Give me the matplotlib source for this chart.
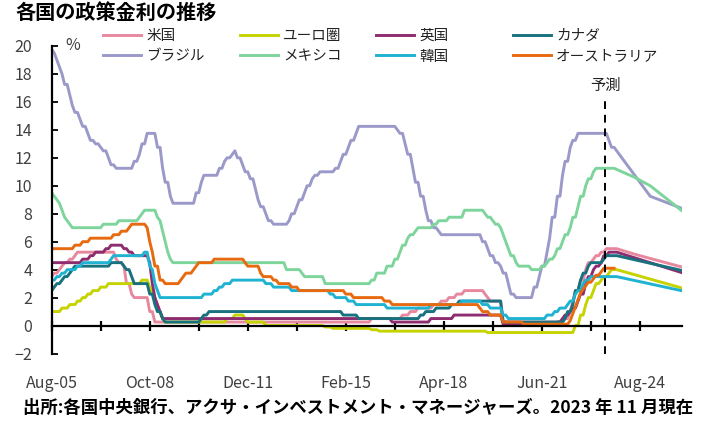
import matplotlib
matplotlib.use("Agg")
import matplotlib.pyplot as plt

plt.rcParams['font.family'] = ['Noto Sans CJK JP', 'DejaVu Sans']

# --- data: policy rate change points (month, rate %) and forecast paths ---
us_dates = ['2005-08', '2005-09', '2005-11', '2005-12', '2006-01', '2006-03', '2006-05', '2006-06',
            '2007-09', '2007-10', '2007-12', '2008-01', '2008-03', '2008-04', '2008-10', '2008-12',
            '2015-12', '2016-12', '2017-03', '2017-06', '2017-12', '2018-03', '2018-06', '2018-09',
            '2018-12', '2019-08', '2019-09', '2019-10', '2020-03', '2022-03', '2022-05', '2022-06',
            '2022-07', '2022-09', '2022-11', '2022-12', '2023-02', '2023-03', '2023-05', '2023-07',
            '2023-11']
us_rates = [3.5, 3.75, 4.0, 4.25, 4.5, 4.75, 5.0, 5.25,
            4.75, 4.5, 4.25, 3.0, 2.25, 2.0, 1.0, 0.25,
            0.5, 0.75, 1.0, 1.25, 1.5, 1.75, 2.0, 2.25,
            2.5, 2.25, 2.0, 1.75, 0.25, 0.5, 1.0, 1.75,
            2.5, 3.25, 4.0, 4.5, 4.75, 5.0, 5.25, 5.5,
            5.5]
us_fc_dates = ['2023-11', '2024-06', '2025-12']
us_fc_rates = [5.5, 5.1, 4.2]

eu_dates = ['2005-08', '2005-12', '2006-03', '2006-06', '2006-08', '2006-10', '2006-12', '2007-03',
            '2007-06', '2008-07', '2008-10', '2008-11', '2008-12', '2009-01', '2009-03', '2009-04',
            '2011-04', '2011-07', '2011-11', '2011-12', '2012-07', '2014-06', '2014-09', '2015-12',
            '2016-03', '2019-09', '2022-07', '2022-09', '2022-11', '2022-12', '2023-02', '2023-03',
            '2023-05', '2023-06', '2023-08', '2023-09', '2023-11']
eu_rates = [1.0, 1.25, 1.5, 1.75, 2.0, 2.25, 2.5, 2.75,
            3.0, 3.25, 2.75, 2.25, 2.0, 1.0, 0.5, 0.25,
            0.5, 0.75, 0.5, 0.25, 0.0, -0.1, -0.2, -0.3,
            -0.4, -0.5, 0.0, 0.75, 1.5, 2.0, 2.5, 3.0,
            3.25, 3.5, 3.75, 4.0, 4.0]
eu_fc_dates = ['2023-11', '2025-12']
eu_fc_rates = [4.0, 2.7]

uk_dates = ['2005-08', '2006-08', '2006-11', '2007-01', '2007-05', '2007-07', '2007-12', '2008-02',
            '2008-04', '2008-10', '2008-11', '2008-12', '2009-01', '2009-02', '2009-03', '2016-08',
            '2017-11', '2018-08', '2020-03', '2021-12', '2022-02', '2022-03', '2022-05', '2022-06',
            '2022-08', '2022-09', '2022-11', '2022-12', '2023-02', '2023-03', '2023-05', '2023-06',
            '2023-08', '2023-11']
uk_rates = [4.5, 4.75, 5.0, 5.25, 5.5, 5.75, 5.5, 5.25,
            5.0, 4.5, 3.0, 2.0, 1.5, 1.0, 0.5, 0.25,
            0.5, 0.75, 0.1, 0.25, 0.5, 0.75, 1.0, 1.25,
            1.75, 2.25, 3.0, 3.5, 4.0, 4.25, 4.5, 5.0,
            5.25, 5.25]
uk_fc_dates = ['2023-11', '2025-12']
uk_fc_rates = [5.25, 3.8]

ca_dates = ['2005-08', '2005-09', '2005-10', '2005-12', '2006-01', '2006-03', '2006-04', '2006-05',
            '2007-07', '2007-12', '2008-01', '2008-03', '2008-04', '2008-10', '2008-12', '2009-01',
            '2009-03', '2009-04', '2010-06', '2010-07', '2010-09', '2015-01', '2015-07', '2017-07',
            '2017-09', '2018-01', '2018-07', '2018-10', '2020-03', '2022-03', '2022-04', '2022-06',
            '2022-07', '2022-09', '2022-10', '2022-12', '2023-01', '2023-06', '2023-07', '2023-11']
ca_rates = [2.5, 2.75, 3.0, 3.25, 3.5, 3.75, 4.0, 4.25,
            4.5, 4.25, 4.0, 3.5, 3.0, 2.25, 1.5, 1.0,
            0.5, 0.25, 0.5, 0.75, 1.0, 0.75, 0.5, 0.75,
            1.0, 1.25, 1.5, 1.75, 0.25, 0.5, 1.0, 1.5,
            2.5, 3.25, 3.75, 4.25, 4.5, 4.75, 5.0, 5.0]
ca_fc_dates = ['2023-11', '2025-12']
ca_fc_rates = [5.0, 3.95]

br_dates = ['2005-08', '2005-09', '2005-10', '2005-11', '2005-12', '2006-01', '2006-03', '2006-04',
            '2006-05', '2006-07', '2006-08', '2006-10', '2006-11', '2007-01', '2007-03', '2007-04',
            '2007-06', '2007-07', '2007-09', '2008-04', '2008-06', '2008-07', '2008-09', '2009-01',
            '2009-03', '2009-04', '2009-06', '2009-07', '2010-04', '2010-06', '2010-07', '2011-01',
            '2011-03', '2011-04', '2011-06', '2011-07', '2011-08', '2011-10', '2011-11', '2012-01',
            '2012-03', '2012-04', '2012-05', '2012-07', '2012-08', '2012-10', '2013-04', '2013-05',
            '2013-07', '2013-08', '2013-10', '2013-11', '2014-01', '2014-02', '2014-04', '2014-10',
            '2014-12', '2015-01', '2015-03', '2015-04', '2015-06', '2015-07', '2016-10', '2016-11',
            '2017-01', '2017-02', '2017-04', '2017-05', '2017-07', '2017-09', '2017-10', '2017-12',
            '2018-02', '2018-03', '2019-07', '2019-09', '2019-10', '2019-12', '2020-02', '2020-03',
            '2020-05', '2020-06', '2020-08', '2021-03', '2021-05', '2021-06', '2021-08', '2021-09',
            '2021-10', '2021-12', '2022-02', '2022-03', '2022-05', '2022-06', '2022-08', '2023-08',
            '2023-09', '2023-10']
br_rates = [19.75, 19.5, 19.0, 18.5, 18.0, 17.25, 16.5, 15.75,
            15.25, 14.75, 14.25, 13.75, 13.25, 13.0, 12.75, 12.5,
            12.0, 11.5, 11.25, 11.75, 12.25, 13.0, 13.75, 12.75,
            11.25, 10.25, 9.25, 8.75, 9.5, 10.25, 10.75, 11.25,
            11.75, 12.0, 12.25, 12.5, 12.0, 11.5, 11.0, 10.5,
            9.75, 9.0, 8.5, 8.0, 7.5, 7.25, 7.5, 8.0,
            8.5, 9.0, 9.5, 10.0, 10.5, 10.75, 11.0, 11.25,
            11.75, 12.25, 12.75, 13.25, 13.75, 14.25, 14.0, 13.75,
            13.0, 12.25, 11.25, 10.25, 9.25, 8.25, 7.5, 7.0,
            6.75, 6.5, 6.0, 5.5, 5.0, 4.5, 4.25, 3.75,
            3.0, 2.25, 2.0, 2.75, 3.5, 4.25, 5.25, 6.25,
            7.75, 9.25, 10.75, 11.75, 12.75, 13.25, 13.75, 13.25,
            12.75, 12.75]
br_fc_dates = ['2023-10', '2024-12', '2025-12']
br_fc_rates = [12.75, 9.25, 8.4]

mx_dates = ['2005-08', '2005-09', '2005-10', '2005-11', '2005-12', '2006-01', '2006-02', '2006-03',
            '2006-04', '2007-04', '2007-10', '2008-06', '2008-07', '2008-08', '2009-01', '2009-02',
            '2009-03', '2009-04', '2009-05', '2009-06', '2009-07', '2013-03', '2013-09', '2013-10',
            '2014-06', '2015-12', '2016-02', '2016-06', '2016-09', '2016-11', '2016-12', '2017-02',
            '2017-03', '2017-05', '2017-06', '2017-12', '2018-02', '2018-06', '2018-12', '2019-08',
            '2019-09', '2019-11', '2019-12', '2020-02', '2020-03', '2020-04', '2020-05', '2020-06',
            '2020-08', '2020-09', '2021-02', '2021-06', '2021-08', '2021-09', '2021-11', '2021-12',
            '2022-02', '2022-03', '2022-05', '2022-06', '2022-08', '2022-09', '2022-11', '2022-12',
            '2023-02', '2023-03', '2023-10']
mx_rates = [9.5, 9.25, 9.0, 8.75, 8.25, 7.75, 7.5, 7.25,
            7.0, 7.25, 7.5, 7.75, 8.0, 8.25, 7.75, 7.5,
            6.75, 6.0, 5.25, 4.75, 4.5, 4.0, 3.75, 3.5,
            3.0, 3.25, 3.75, 4.25, 4.75, 5.25, 5.75, 6.25,
            6.5, 6.75, 7.0, 7.25, 7.5, 7.75, 8.25, 8.0,
            7.75, 7.5, 7.25, 7.0, 6.5, 6.0, 5.5, 5.0,
            4.5, 4.25, 4.0, 4.25, 4.5, 4.75, 5.0, 5.5,
            6.0, 6.5, 7.0, 7.75, 8.5, 9.25, 10.0, 10.5,
            11.0, 11.25, 11.25]
mx_fc_dates = ['2023-10', '2024-06', '2024-12', '2025-12']
mx_fc_rates = [11.25, 10.6, 10.0, 8.25]

kr_dates = ['2005-08', '2005-10', '2005-12', '2006-02', '2006-06', '2006-08', '2007-07', '2007-08',
            '2008-08', '2008-10', '2008-11', '2008-12', '2009-01', '2009-02', '2010-07', '2010-11',
            '2011-01', '2011-03', '2011-06', '2012-07', '2012-10', '2013-05', '2014-08', '2014-10',
            '2015-03', '2015-06', '2016-06', '2017-11', '2018-11', '2019-07', '2019-10', '2020-03',
            '2020-05', '2021-08', '2021-11', '2022-01', '2022-04', '2022-05', '2022-07', '2022-08',
            '2022-10', '2022-11', '2023-01', '2023-11']
kr_rates = [3.25, 3.5, 3.75, 4.0, 4.25, 4.5, 4.75, 5.0,
            5.25, 4.25, 4.0, 3.0, 2.5, 2.0, 2.25, 2.5,
            2.75, 3.0, 3.25, 3.0, 2.75, 2.5, 2.25, 2.0,
            1.75, 1.5, 1.25, 1.5, 1.75, 1.5, 1.25, 0.75,
            0.5, 0.75, 1.0, 1.25, 1.5, 1.75, 2.25, 2.5,
            3.0, 3.25, 3.5, 3.5]
kr_fc_dates = ['2023-11', '2025-12']
kr_fc_rates = [3.5, 2.5]

au_dates = ['2005-08', '2006-05', '2006-08', '2006-11', '2007-08', '2007-11', '2008-02', '2008-03',
            '2008-09', '2008-10', '2008-11', '2008-12', '2009-02', '2009-04', '2009-10', '2009-11',
            '2009-12', '2010-03', '2010-04', '2010-05', '2010-11', '2011-11', '2011-12', '2012-05',
            '2012-06', '2012-10', '2012-12', '2013-05', '2013-08', '2015-02', '2015-05', '2016-05',
            '2016-08', '2019-06', '2019-07', '2019-10', '2020-03', '2020-11', '2022-05', '2022-06',
            '2022-07', '2022-08', '2022-09', '2022-10', '2022-11', '2022-12', '2023-02', '2023-03',
            '2023-05', '2023-06', '2023-10']
au_rates = [5.5, 5.75, 6.0, 6.25, 6.5, 6.75, 7.0, 7.25,
            7.0, 6.0, 5.25, 4.25, 3.25, 3.0, 3.25, 3.5,
            3.75, 4.0, 4.25, 4.5, 4.75, 4.5, 4.25, 3.75,
            3.5, 3.25, 3.0, 2.75, 2.5, 2.25, 2.0, 1.75,
            1.5, 1.25, 1.0, 0.75, 0.25, 0.1, 0.35, 0.85,
            1.35, 1.85, 2.35, 2.6, 2.85, 3.1, 3.35, 3.6,
            3.85, 4.1, 4.1]

tick_labels = ['Aug-05', 'Oct-08', 'Dec-11', 'Feb-15', 'Apr-18', 'Jun-21', 'Aug-24']
forecast_start = '2023-06'


def month_idx(s):
    y, m = map(int, s.split('-'))
    return (y - 2005) * 12 + (m - 8)


def monthly_path(dates, rates):
    # monthly line: each change is reached from the previous month's level
    xs, ys = [month_idx(dates[0])], [rates[0]]
    for d, r in zip(dates[1:], rates[1:]):
        m = month_idx(d)
        if m - 1 > xs[-1]:
            xs.append(m - 1)
            ys.append(ys[-1])
        xs.append(m)
        ys.append(r)
    return xs, ys


series = [
    ('米国', '#E8889F', us_dates, us_rates, us_fc_dates, us_fc_rates),
    ('ユーロ圏', '#C5D300', eu_dates, eu_rates, eu_fc_dates, eu_fc_rates),
    ('英国', '#8E2C70', uk_dates, uk_rates, uk_fc_dates, uk_fc_rates),
    ('カナダ', '#18717F', ca_dates, ca_rates, ca_fc_dates, ca_fc_rates),
    ('ブラジル', '#9B99C9', br_dates, br_rates, br_fc_dates, br_fc_rates),
    ('メキシコ', '#7ED59C', mx_dates, mx_rates, mx_fc_dates, mx_fc_rates),
    ('韓国', '#1FB3D1', kr_dates, kr_rates, kr_fc_dates, kr_fc_rates),
    ('オーストラリア', '#E86A10', au_dates, au_rates, None, None),
]

W, H = 707, 421
fig = plt.figure(figsize=(W / 100, H / 100), dpi=100)
ax = fig.add_axes([51.7 / W, (H - 353.5) / H, 630 / W, 307.5 / H])

handles = {}
for name, color, d, r, fd, fr in series:
    x, y = monthly_path(d, r)
    if fd is not None:
        x = x + [month_idx(s) for s in fd[1:]]
        y = y + list(fr[1:])
    ln, = ax.plot(x, y, color=color, lw=2.1, solid_joinstyle='round')
    handles[name] = ln

ax.set_xlim(0, 244.2)
ax.set_ylim(-2, 20)

# forecast marker
fx = month_idx(forecast_start) + 0.5
ax.plot([fx, fx], [-2, 16.4], color='black', lw=1.4, ls=(0, (4, 3)))
ax.text(fx, 17.2, '予測', ha='center', va='center', fontsize=11, color='#222222')

# axes styling
for s in ['top', 'right']:
    ax.spines[s].set_visible(False)
ax.spines['bottom'].set_position(('data', 0))
ax.spines['left'].set_linewidth(1.6)
ax.spines['bottom'].set_linewidth(1.6)

ax.set_yticks(range(-2, 21, 2))
ax.tick_params(axis='y', direction='in', length=4.5, width=1.3, labelsize=11.5,
               labelcolor='#404040', pad=14)
ax.set_xticks(range(0, 245, 19))
ax.set_xticklabels([tick_labels[i // 2] if i % 2 == 0 else '' for i in range(13)])
ax.tick_params(axis='x', direction='inout', length=7, width=1.6, labelsize=11.5,
               labelcolor='#404040', pad=32)

ax.text(8, 20, '%', ha='center', va='center', fontsize=11.5, color='#404040')

# legend: 4 columns of 2 rows
cols = [('米国', 'ブラジル'), ('ユーロ圏', 'メキシコ'), ('英国', '韓国'), ('カナダ', 'オーストラリア')]
col_x = [103, 240, 376, 513]
for names, cx in zip(cols, col_x):
    leg = fig.legend([handles[n] for n in names], list(names), loc='upper left',
                     bbox_to_anchor=(cx / W, 1 - 29 / H), frameon=False, fontsize=10.5,
                     handlelength=2.6, handletextpad=0.35, borderpad=0, borderaxespad=0,
                     labelspacing=0.45)
    for t in leg.get_texts():
        t.set_color('#222222')

fig.text(15 / W, 1 - 12 / H, '各国の政策金利の推移', ha='left', va='center',
         fontsize=14.5, fontweight='bold')
fig.text(23 / W, 1 - 408 / H, '出所:各国中央銀行、アクサ・インベストメント・マネージャーズ。2023 年 11 月現在',
         ha='left', va='center', fontsize=12.5, fontweight='bold')

fig.savefig('out.png', dpi=100)
